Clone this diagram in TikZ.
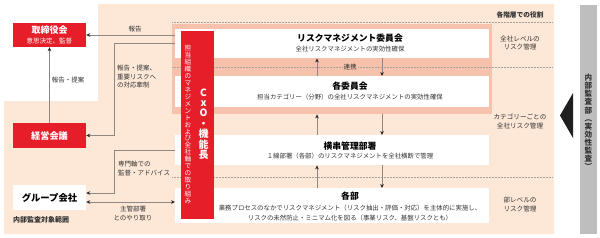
\documentclass[tikz,border=0pt]{standalone}
\usepackage{fontspec}
\setmainfont{Noto Sans CJK JP}
\usetikzlibrary{arrows.meta,calc}
\definecolor{peach}{HTML}{FDE8D7}
\definecolor{salmon}{HTML}{F7C2AC}
\definecolor{jred}{HTML}{E61E2A}
\definecolor{barg}{HTML}{BEBEBE}
\definecolor{linec}{HTML}{8F8782}
\definecolor{txt}{HTML}{333333}
\definecolor{dotc}{HTML}{A8A09B}
\makeatletter
\newcommand\vstack[1]{\vbox{\@tfor\vs@c:=#1\do{\hbox to 1em{\hss\vs@c\hss}}}}
\makeatother
\begin{document}
\begin{tikzpicture}[x=1pt,y=-1pt,
  wbox/.style={fill=white, inner sep=0pt, minimum width=314pt, anchor=north west},
  rbox/.style={fill=jred, inner sep=0pt, minimum width=73pt},
  ttl/.style={font=\bfseries\fontsize{8.8}{10}\selectfont, text=black, inner sep=0pt},
  subt/.style={font=\fontsize{6.4}{9.4}\selectfont, text=txt, inner sep=0pt, align=center},
  lbl/.style={font=\fontsize{6.5}{8.6}\selectfont, text=txt, inner sep=0pt},
  rlbl/.style={font=\fontsize{6.6}{8.6}\selectfont, text=txt, inner sep=0pt, align=center},
  dotline/.style={draw=dotc, line width=0.5pt, densely dotted},
  tip/.style={Stealth[length=4pt, width=3.6pt, color=black!85]},
  arr/.style={draw=linec, line width=0.8pt, -{Stealth[length=4pt, width=3.6pt, color=black!85]}},
  darr/.style={draw=linec, line width=0.8pt, {Stealth[length=4pt, width=3.6pt, color=black!85]}-{Stealth[length=4pt, width=3.6pt, color=black!85]}}]
\useasboundingbox (0,0) rectangle (600,238);
% background
\fill[peach] (98,4) -- (554,4) -- (554,234) -- (4,234) -- (4,101) -- (98,101) -- cycle;
% salmon band
\node[fill=salmon, inner sep=0pt, minimum width=320pt, minimum height=90.5pt, anchor=north west] (band) at (172,23.5) {};
% dotted row lines
\coordinate (dl1) at (172,22);
\coordinate (dr1) at (552,22);
\coordinate (dl2) at (172,67);
\coordinate (dr2) at (552,67);
\coordinate (dl3) at (172,177);
\coordinate (dr3) at (552,177);
\draw[dotline] (dl1) -- (dr1);
\draw[dotline] (dl2) -- (dr2);
\draw[dotline] (dl3) -- (dr3);
% white boxes
\node[wbox, minimum height=29pt] (box1) at (175,29) {};
\node[wbox, minimum height=31pt] (box2) at (175,76) {};
\node[wbox, minimum height=30pt] (box3) at (175,135) {};
\node[wbox, minimum height=35pt] (box4) at (175,188) {};
\node[ttl] (t1) at (350,38) {リスクマネジメント委員会};
\node[subt] (s1) at (350,49.5) {全社リスクマネジメントの実効性確保};
\node[ttl] (t2) at (350,86) {各委員会};
\node[subt] (s2) at (350,97) {担当カテゴリー（分野）の全社リスクマネジメントの実効性確保};
\node[ttl] (t3) at (350,146) {横串管理部署};
\node[subt] (s3) at (350,156.5) {１線部署（各部）のリスクマネジメントを全社横断で管理};
\node[ttl] (t4) at (350,196.5) {各部};
\node[subt] (s4) at (350,213) {業務プロセスのなかでリスクマネジメント（リスク抽出・評価・対応）を主体的に実施し、\\リスクの未然防止・ミニマム化を図る（事業リスク、基盤リスクとも）};
% CxO red bar
\node[fill=jred, inner sep=0pt, minimum width=33pt, minimum height=188pt, anchor=north west] (cxo) at (181,31) {};
\node[text=white, font=\fontsize{6.6}{6.95}\selectfont, inner sep=0pt] (cxosub) at (188,124.5) {\vstack{担当組織のマネジメントおよび全社軸での取り組み}};
\node[text=white, font=\bfseries\fontsize{10}{10.4}\selectfont, inner sep=0pt] (cxot) at (203.5,124) {\vstack{CxO・機能長}};
% connectors between boxes
\coordinate (upx) at (317,0);
\coordinate (dnx) at (382,0);
\draw[arr] (box2.north -| upx) -- (box1.south -| upx);
\draw[arr] (box1.south -| dnx) -- (box2.north -| dnx);
\draw[arr] (box3.north -| upx) -- (band.south -| upx);
\draw[arr] (band.south -| dnx) -- (box3.north -| dnx);
\draw[arr] (box4.north -| upx) -- (box3.south -| upx);
\draw[arr] (box3.south -| dnx) -- (box4.north -| dnx);
\node[lbl, fill=salmon, inner sep=1pt] (renkei) at (350,67) {連携};
% left boxes
\node[rbox, minimum height=24pt] (tori) at (49.5,35) {};
\node[text=white, font=\bfseries\fontsize{9}{10}\selectfont, inner sep=0pt] (torit) at (49.5,30) {取締役会};
\node[text=white, font=\fontsize{6.5}{8}\selectfont, inner sep=0pt] (toris) at (49.5,41.5) {意思決定、監督};
\node[rbox, minimum height=25pt] (keiei) at (49.5,135.5) {};
\node[text=white, font=\bfseries\fontsize{9.2}{10}\selectfont, inner sep=0pt] (keieit) at (49.5,135.5) {経営会議};
\node[fill=white, inner sep=0pt, minimum width=73pt, minimum height=25pt] (group) at (49.5,197.5) {};
\node[text=black, font=\bfseries\fontsize{9.3}{10}\selectfont, inner sep=0pt] (groupt) at (49.5,197.5) {グループ会社};
\node[anchor=west, text=txt, font=\bfseries\fontsize{7}{8}\selectfont, inner sep=0pt] (scope) at (13,219.5) {内部監査対象範囲};
% left connectors
\coordinate (bend1) at (114,0);
\coordinate (ya) at (0,193);
\coordinate (yb) at (0,202);
\draw[arr] (box1.west |- tori.east) -- (tori.east);
\draw[arr] (box1.west) -| (bend1 |- keiei.east) -- (keiei.east);
\draw[arr] (keiei.north) -- (tori.south);
\draw[arr] (box3.west) -| (bend1 |- ya) -- (group.east |- ya);
\draw[darr] (group.east |- yb) -- (box4.west |- yb);
\node[lbl] (l1) at (135,29) {報告};
\node[lbl] (l2) at (68,80) {報告・提案};
\node[lbl, anchor=west, align=left] (l3) at (117,76.7) {報告・提案、\\重要リスクへ\\の対応牽制};
\node[lbl, anchor=west, align=left] (l4) at (118,168.5) {専門軸での\\監督・アドバイス};
\node[lbl, align=center, font=\fontsize{6.5}{9}\selectfont] (l5) at (133,213.5) {主管部署\\とのやり取り};
% right column
\node[rlbl, font=\bfseries\fontsize{6.7}{8}\selectfont] (r0) at (520,15) {各階層での役割};
\node[rlbl] (r1) at (520,43) {全社レベルの\\リスク管理};
\node[rlbl] (r2) at (520,121.5) {カテゴリーごとの\\全社リスク管理};
\node[rlbl] (r3) at (520,204.5) {部レベルの\\リスク管理};
% audit bar
\node[fill=barg, inner sep=0pt, minimum width=17pt, minimum height=229pt, anchor=north west] (bar) at (580,5) {};
\node[text=txt, font=\bfseries\fontsize{7.6}{8.1}\selectfont, inner sep=0pt] (bart) at (588.5,122) {\vstack{内部監査部︵実効性監査︶}};
\coordinate (tria) at (560,115.5);
\coordinate (trib) at (573,93);
\coordinate (tric) at (573,138);
\fill[black!88] (tria) -- (trib) -- (tric) -- cycle;
\end{tikzpicture}
\end{document}
